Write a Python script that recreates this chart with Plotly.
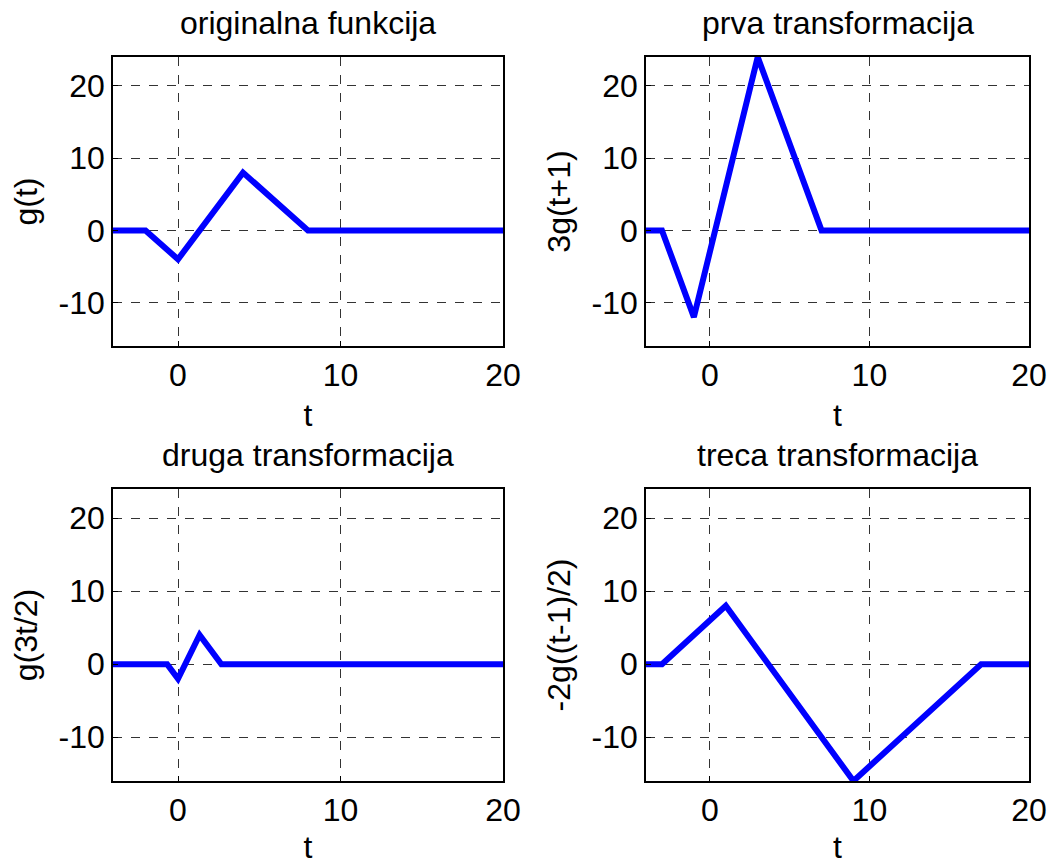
import plotly.graph_objects as go

# ---- data ----
t_orig = [-4, -2, 0, 4, 8, 20]
g_orig = [0, 0, -4, 8, 0, 0]

t_first = [-4, -3, -1, 3, 7, 20]
g_first = [0, 0, -12, 24, 0, 0]

t_second = [-4, -0.67, 0, 1.33, 2.67, 20]
g_second = [0, 0, -2, 4, 0, 0]

t_third = [-4, -3, 1, 9, 17, 20]
g_third = [0, 0, 8, -16, 0, 0]

titles = ["originalna funkcija", "prva transformacija", "druga transformacija", "treca transformacija"]
ylabels = ["g(t)", "3g(t+1)", "g(3t/2)", "-2g((t-1)/2)"]
xticks = [0, 10, 20]
xticklabels = ["0", "10", "20"]
yticks = [-10, 0, 10, 20]
yticklabels = ["-10", "0", "10", "20"]

series = [(t_orig, g_orig), (t_first, g_first), (t_second, g_second), (t_third, g_third)]

W, H = 1054, 865
FONT = "Liberation Sans, Arial, sans-serif"
FS = 32

# axes boxes in page pixels: (left, right, top, bottom)
boxes = [(113, 503, 57, 346), (646, 1029, 57, 346),
         (113, 503, 489, 781), (646, 1029, 489, 781)]

fig = go.Figure()
layout = dict(
    width=W, height=H,
    margin=dict(l=0, r=0, t=0, b=0, autoexpand=False),
    paper_bgcolor="white", plot_bgcolor="white",
    showlegend=False,
    font=dict(family=FONT, size=FS, color="black"),
    annotations=[],
)

for i, ((tx, gy), (l, r, t, b)) in enumerate(zip(series, boxes)):
    n = "" if i == 0 else str(i + 1)
    fig.add_trace(go.Scatter(x=tx, y=gy, mode="lines",
                             line=dict(color="#0000ff", width=6),
                             xaxis="x" + n, yaxis="y" + n))
    xd = [l / W, r / W]
    yd = [1 - b / H, 1 - t / H]
    common = dict(showline=True, mirror=True, linecolor="black", linewidth=1.5,
                  showgrid=True, gridcolor="#333333", griddash="dash", gridwidth=1,
                  zeroline=False, ticks="inside", ticklen=5, tickcolor="black",
                  automargin=False,
                  tickfont=dict(family=FONT, size=FS, color="black"))
    layout["xaxis" + n] = dict(domain=xd, range=[-4, 20], tickvals=xticks,
                               ticktext=xticklabels, anchor="y" + n,
                               title=dict(text="t", font=dict(family=FONT, size=FS), standoff=11),
                               **common)
    layout["yaxis" + n] = dict(domain=yd, range=[-16, 24], tickvals=yticks,
                               ticktext=yticklabels, anchor="x" + n,
                               title=dict(text=ylabels[i], font=dict(family=FONT, size=FS), standoff=11),
                               **common)
    layout["annotations"].append(dict(
        text=titles[i], xref="paper", yref="paper",
        x=(l + r) / 2 / W, y=1 - (t - 14) / H,
        xanchor="center", yanchor="bottom", showarrow=False,
        font=dict(family=FONT, size=FS, color="black")))

fig.update_layout(**layout)
fig.write_html("out.html",
               config={"displayModeBar": False},
               post_script="document.body.style.margin='0';document.body.style.overflow='hidden';")
